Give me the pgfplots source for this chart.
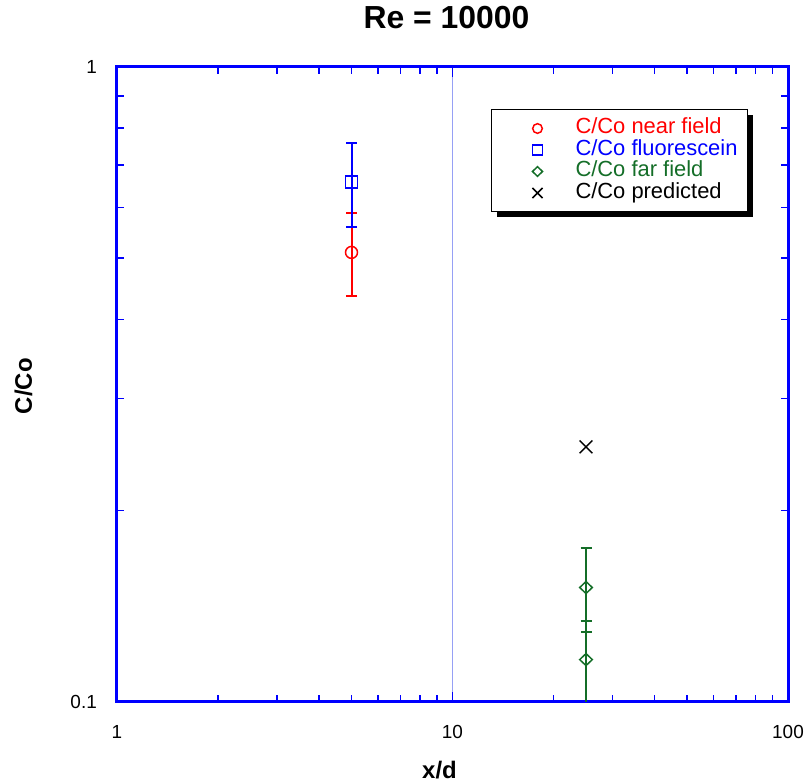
\documentclass[border=0pt]{standalone}
\usepackage{pgfplots}
\pgfplotsset{compat=1.18}
\usepackage{fontspec}
\setmainfont{Liberation Sans}
\usetikzlibrary{shadows}
\definecolor{myblue}{RGB}{0,0,255}
\definecolor{mygreen}{RGB}{20,110,40}
\definecolor{gridblue}{RGB}{150,160,245}
\begin{document}
\begin{tikzpicture}
\begin{axis}[
  scale only axis, width=671bp, height=635bp,
  xmode=log, ymode=log,
  xmin=1, xmax=100, ymin=0.1, ymax=1,
  axis line style={myblue, line width=3bp},
  every tick/.style={myblue, line width=1.5bp},
  tick align=inside,
  major tick length=10bp, minor tick length=7bp,
  xtick={1,10,100}, xticklabels={1,10,100},
  ytick={0.1,1}, yticklabels={0.1,1},
  minor xtick={2,3,4,5,6,7,8,9,20,30,40,50,60,70,80,90},
  minor ytick={0.2,0.3,0.4,0.5,0.6,0.7,0.8,0.9},
  xmajorgrids, major grid style={gridblue, line width=1.8bp},
  tick label style={font=\fontsize{19}{22}\selectfont, inner sep=0pt},
  xticklabel style={anchor=center, yshift=-30bp},
  yticklabel style={anchor=east, xshift=-20bp},
  title={Re = 10000},
  title style={font=\bfseries\fontsize{32}{38}\selectfont, at={(0.5,1)}, anchor=center, yshift=43bp, xshift=-6bp, inner sep=0pt},
  xlabel={x/d},
  xlabel style={font=\bfseries\fontsize{24}{28}\selectfont, at={(0.5,0)}, anchor=center, yshift=-68bp, xshift=-13bp, inner sep=0pt},
  ylabel={C/Co},
  ylabel style={font=\bfseries\fontsize{24}{28}\selectfont, at={(0,0.5)}, anchor=center, yshift=93.5bp, xshift=-2bp, inner sep=0pt},
  legend style={at={(0.557,0.9334)}, anchor=north west, draw=black, line width=1.5bp, fill=white,
    drop shadow={shadow xshift=5bp, shadow yshift=-5bp, fill=black, opacity=1},
    font=\fontsize{22}{23}\selectfont,
    nodes={text height=15.5bp, text depth=4.5bp, inner ysep=0.75bp, inner xsep=1bp},
    inner xsep=9bp, inner ysep=8bp},
  legend cell align=left,
  legend image code/.code={\pgfpathrectangle{\pgfpoint{0bp}{-3bp}}{\pgfpoint{74bp}{6bp}}\pgfusepath{}\draw[#1] plot coordinates {(37bp,0bp)};},
  legend image post style={/tikz/every mark/.append style={scale=0.8}},
]
\addplot[only marks, red, mark=o, mark size=6bp, mark options={line width=1.5bp},
  error bars/.cd, y dir=both, y explicit,
  error bar style={line width=2bp, red},
  error mark options={rotate=90, mark size=5.5bp, line width=2bp, red}]
  coordinates {(5,0.51) += (0,0.079) -= (0,0.074)};
\addlegendentry[text=red]{C/Co near field}
\addplot[only marks, myblue, mark=square, mark size=6bp, mark options={line width=1.5bp},
  error bars/.cd, y dir=both, y explicit,
  error bar style={line width=2bp, myblue},
  error mark options={rotate=90, mark size=5.5bp, line width=2bp, myblue}]
  coordinates {(5,0.658) += (0,0.100) -= (0,0.098)};
\addlegendentry[text=myblue]{C/Co fluorescein}
\addplot[only marks, mygreen, mark=diamond, mark size=6bp, mark options={line width=1.5bp, xscale=1.4},
  error bars/.cd, y dir=both, y explicit,
  error bar style={line width=2bp, mygreen},
  error mark options={rotate=90, mark size=5.5bp, line width=2bp, mygreen}]
  coordinates {(25,0.1513) += (0,0.0232) -= (0,0.0226)
               (25,0.1165) += (0,0.0174) -= (0,0.0175)};
\addlegendentry[text=mygreen]{C/Co far field}
\addplot[only marks, black, mark=x, mark size=9bp, mark options={line width=1.5bp}]
  coordinates {(25,0.252)};
\addlegendentry[text=black]{C/Co predicted}
\end{axis}
\pgfresetboundingbox
\path ([shift={(-117bp,-80bp)}]current axis.south west) rectangle ([shift={(22bp,66.7bp)}]current axis.north east);
\end{tikzpicture}
\end{document}
